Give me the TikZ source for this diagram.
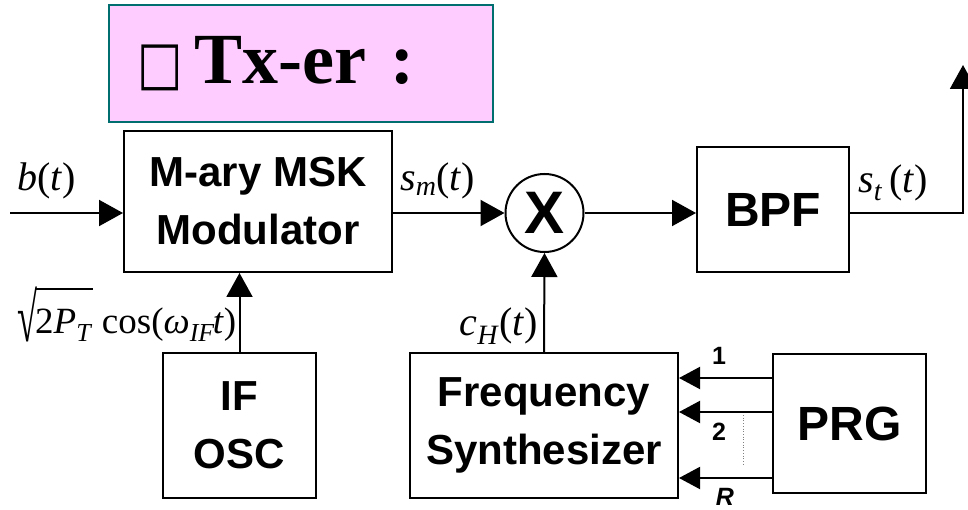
\documentclass[tikz,border=0pt]{standalone}
\usepackage{fontspec}
\setmainfont{Liberation Serif}
\setsansfont{Liberation Sans}
\newfontfamily\symfont{DejaVu Sans}
\usetikzlibrary{arrows.meta}

\definecolor{titlepink}{RGB}{255,204,255}
\definecolor{titleteal}{RGB}{0,110,110}

\newcommand{\blocktxt}{\fontsize{42}{58}\selectfont\sffamily\bfseries}
\newcommand{\bigblocktxt}{\fontsize{48}{58}\selectfont\sffamily\bfseries}
\newcommand{\sigtxt}{\fontsize{40}{48}\selectfont}
\newcommand{\txtsqrt}[1]{\raisebox{-9pt}{\resizebox*{20pt}{55pt}{√}}\kern-2pt\vbox{\hrule height 1.8pt\kern 19pt\hbox{#1}}}

\begin{document}
\begin{tikzpicture}[x=1pt,y=-1pt,
    block/.style={draw=black, line width=2pt, align=center, font=\blocktxt},
    sig/.style={draw=black, line width=2pt, -{Triangle[length=24pt,width=26pt]}},
    smallsig/.style={sig, -{Triangle[length=21pt,width=22pt]}},
    lbl/.style={font=\sigtxt},
    num/.style={font=\fontsize{25}{30}\selectfont\sffamily\bfseries}]
    \tikzstyle{every node}+=[inner sep=0pt]
    \useasboundingbox (0,0) rectangle (968,510);
    % title
    \node [draw=titleteal, fill=titlepink, line width=2pt, minimum width=384pt, minimum height=117pt,
           text width=328pt, inner xsep=28pt, align=left, font=\fontsize{72}{72}\selectfont\bfseries]
          (title) at (301,63.5) {{\symfont\mdseries\fontsize{60}{60}\selectfont\scalebox{0.8}[1]{□}}\hspace{12pt}Tx-er :};
    % blocks
    \node [block, minimum width=268pt, minimum height=141pt] (mod) at (258,201.5) {M-ary MSK\\Modulator};
    \node [draw=black, circle, line width=2pt, minimum size=78pt, font=\fontsize{60}{60}\selectfont\sffamily\bfseries] (mix) at (544.5,213) {X};
    \node [block, minimum width=152pt, minimum height=125pt, font=\bigblocktxt] (bpf) at (773,209.5) {BPF};
    \node [block, minimum width=153pt, minimum height=145pt] (ifosc) at (239.5,425.5) {IF\\OSC};
    \node [block, minimum width=268pt, minimum height=145pt] (fs) at (544,425.5) {Frequency\\Synthesizer};
    \node [block, minimum width=153pt, minimum height=139pt, font=\bigblocktxt] (prg) at (849.5,423.5) {PRG};
    % free ends
    \coordinate (bin) at (10,213);
    \coordinate (stout) at (963,65);
    % signal path
    \draw [sig] (bin) -- (bin -| mod.west);
    \draw [sig] (mix -| mod.east) -- (mix.west);
    \draw [sig] (mix.east) -- (mix -| bpf.west);
    \draw [sig] (mix -| bpf.east) -| (stout);
    \draw [sig] (ifosc.north) -- (ifosc.north |- mod.south);
    \draw [sig] (fs.north) -- (mix.south);
    \foreach \ly [count=\i] in {378,412,478} {
        \coordinate (hop\i) at (0,\ly);
        \draw [smallsig] (prg.west |- hop\i) -- (fs.east |- hop\i);
    }
    \coordinate (dottop) at (743,415);
    \coordinate (dotbot) at (743,465);
    \draw [gray, line width=0.7pt, dotted] (dottop) -- (dotbot);
    % labels
    \node [lbl, anchor=base west] (btlbl) at (17,191) {\textit{b}(\textit{t})};
    \node [lbl, anchor=base west] (smlbl) at (400,191) {\textit{s}\textsubscript{\textit{m}}(\textit{t})};
    \node [lbl, anchor=base west] (stlbl) at (858,193) {\textit{s}\textsubscript{\textit{t}}\,(\textit{t})};
    \node [lbl, anchor=base west, font=\fontsize{37}{46}\selectfont] (osclbl) at (17,333)
          {\txtsqrt{2\textit{P}\textsubscript{\textit{T}}}\ cos(\textit{ω}\textsubscript{\textit{IF}}\kern-2pt\textit{t})};
    \node [lbl, anchor=base east] (chlbl) at (538,335) {\textit{c}\textsubscript{\textit{H}}(\textit{t})};
    \node [num] (one) at (719,356) {1};
    \node [num] (two) at (719,432) {2};
    \node [num, font=\fontsize{25}{30}\selectfont\sffamily\bfseries\itshape] (rr) at (725,497) {R};
\end{tikzpicture}
\end{document}
